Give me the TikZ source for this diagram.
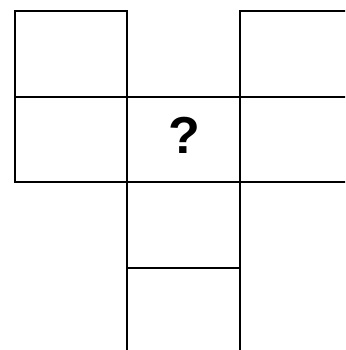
\documentclass[tikz,border=0pt]{standalone}
\usepackage{fontspec}
\setmainfont{Liberation Sans}
\begin{document}
\begin{tikzpicture}[x=1pt,y=-1pt,
  gridline/.style={line width=1.8pt, line cap=rect},
  qmark/.style={font=\fontsize{52}{56}\selectfont\bfseries, inner sep=0pt}]
\useasboundingbox (0,0) rectangle (345,350);
\begin{scope}
\clip (0,0) rectangle (345,350);
% left column
\draw[gridline] (15,11) rectangle (127,97);
\draw[gridline] (15,97) rectangle (127,182);
% middle column
\draw[gridline] (127,97) rectangle (240,182);
\draw[gridline] (127,182) rectangle (240,268);
\draw[gridline] (127,268) -- (127,360);
\draw[gridline] (240,268) -- (240,360);
% right column
\draw[gridline] (360,11) -- (240,11) -- (240,182) -- (360,182);
\draw[gridline] (240,97) -- (360,97);
\end{scope}
\node[qmark] (q) at (184,135) {?};
\end{tikzpicture}
\end{document}
